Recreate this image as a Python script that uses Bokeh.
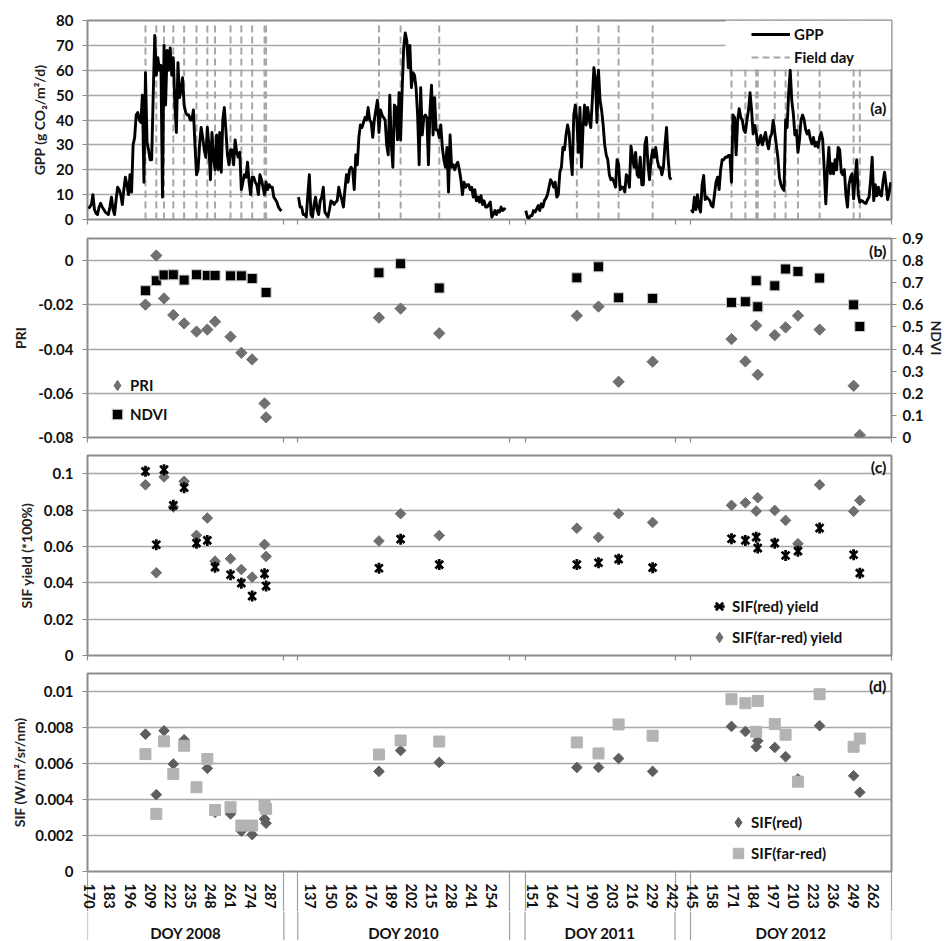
import numpy as np
from bokeh.plotting import figure
from bokeh.layouts import column
from bokeh.models import (Range1d, FixedTicker, LinearAxis, Legend, LegendItem,
                          Label, BoxAnnotation)
from bokeh.core.properties import value
from bokeh.embed import file_html
from bokeh.resources import INLINE

NaN = float("nan")

# ------------------------------------------------------------------ data ----
years = ["2008", "2010", "2011", "2012"]
first_doy = [170, 130, 148, 145]
last_doy = [296, 266, 244, 274]
spacer_cats = [9, 10, 10]      # empty categories between two seasons
label_every = 13               # one DOY label every 13 categories

# daily GPP (g CO2/m2/d), one value per day starting at first_doy
gpp_2008 = [4.5, 5, 6, 10, 4, 2.5, 2, 5, 6.5, 5,
            4, 3, 2.5, 2, 5, 9, 4, 2, 8, 13,
            12, 10, 6, 12, 17, 14, 10, 18, 11, 30,
            33, 42, 43, 40, 39, 50, 15, 59, 31, 28,
            24, 24, 50, 74, 58, 65, 60, 62, 9, 70,
            46, 68, 60, 69, 58, 65, 46, 35, 63, 49,
            52, 57, 46, 43, 42, 42, 40, 40, 44, 30,
            18, 20, 30, 37, 33, 28, 25, 37, 30, 16,
            35, 25, 20, 34, 20, 35, 19, 40, 45, 36,
            26, 22, 28, 28, 22, 32, 27, 25, 27, 12,
            15, 18, 17, 23, 15, 10, 17, 17, 15, 14,
            10, 18, 16, 13, 10, 15, 12, 14, 13, 13,
            9, 8, 7, 5, 4, 3.5]
gpp_2010 = [9, 5, 5, 2, 2, 1, 10, 18, 2, 1,
            6, 9, 4, 2, 7.5, 9, 13, 3, 2, 1,
            4, 7.5, 7, 6, 7, 7.5, 13, 10, 8, 5,
            12, 18, 15, 20, 21, 20, 12, 26, 22, 33,
            38, 37, 39, 41, 40, 45, 40, 39, 33, 40,
            44, 48, 35, 44, 42, 41, 40, 30, 26, 50,
            30, 21, 46, 45, 32, 51, 32, 52, 69, 75,
            72, 61, 70, 53, 59, 58, 53, 42, 22, 53,
            34, 41, 42, 41, 22, 44, 54, 34, 49, 36,
            36, 33, 38, 29, 24, 21, 29, 11, 34, 21,
            22, 20, 22, 23, 20, 16, 10, 15, 13, 14,
            14, 12, 13, 9, 12, 7.5, 9, 7, 9.6, 6,
            7.5, 5, 5, 6, 7, 1, 2, 3.6, 2, 3.6,
            3, 5, 3.6, 4.3, 4]
gpp_2011 = [3.6, 1, 0.5, 1.5, 1.6, 3.6, 3, 4.3, 5.6, 3.6,
            6.3, 5, 7.6, 8.5, 10, 13, 16, 15, 13, 15,
            9, 10, 19, 21, 29, 28, 34, 38, 35, 25,
            18, 42, 46, 40, 27, 45, 21, 37, 46, 38,
            45, 40, 37, 48, 61, 57, 39, 60, 48, 44,
            38, 30, 26, 24, 18, 16, 16.5, 15, 13, 24,
            22, 12, 13, 13, 11, 18, 17, 13, 29.5, 25,
            21, 27, 18, 17, 25, 14, 14, 30, 33, 22,
            16, 24, 28, 25, 29, 24, 21, 21, 18, 21,
            30, 37, 25, 17, 16]
gpp_2012 = [4, 3, 9, 4, 10, 5, 3, 14, 17.7, 8,
            9, 8.3, 7.6, 5.6, 5, 10, 15, 17, 12, 20,
            24, 24, 25, 25, 25.7, 25.7, 15, 42, 41, 26,
            40, 44.5, 41, 40, 36, 35, 40, 44, 51, 44,
            34.4, 37.8, 35, 30, 31, 33.8, 30, 32.4, 35, 31,
            28.4, 33, 34.4, 39.8, 35, 30, 25, 17, 14, 12.5,
            11.7, 40, 37, 51, 60, 47.8, 42.5, 34, 35.8, 27,
            32, 40, 42, 40, 36, 34.4, 35.8, 32.4, 30.4, 33,
            29.5, 31, 29, 33, 35, 32, 20, 6.3, 20, 29,
            18.4, 22.4, 18.4, 24, 20, 29, 28, 19, 18, 20,
            10, 5, 14, 17, 18.4, 8.3, 17, 24, 10, 7,
            7.6, 7.3, 6.6, 6.5, 8, 9, 16, 25, 7.6, 14,
            9.5, 13, 10, 9.5, 15, 19, 14, 8, 11, 15]

# field days (DOY) and the measurements taken on them
field_2008 = [207, 214, 219, 225, 232, 240, 247, 252, 262, 269, 276, 284, 285]
field_2010 = [182, 196, 221]
field_2011 = [181, 195, 208, 230]
field_2012 = [171, 180, 187, 188, 199, 206, 214, 228, 250, 254]

pri_2008 = [-0.0199, 0.0023, -0.0171, -0.0246, -0.0284, -0.0321, -0.0312,
            -0.0276, -0.0344, -0.0417, -0.0447, -0.0646, -0.0709]
pri_2010 = [-0.0258, -0.0217, -0.0329]
pri_2011 = [-0.0249, -0.0208, -0.0548, -0.0457]
pri_2012 = [-0.0355, -0.0456, -0.0294, -0.0516, -0.0337, -0.0302, -0.0249,
            -0.0312, -0.0566, -0.0789]

ndvi_2008 = [0.664, 0.709, 0.735, 0.736, 0.712, 0.736, 0.733, 0.733, 0.731,
             0.731, 0.719, NaN, 0.656]
ndvi_2010 = [0.745, 0.786, 0.676]
ndvi_2011 = [0.722, 0.772, 0.632, 0.629]
ndvi_2012 = [0.611, 0.614, 0.709, 0.591, 0.686, 0.762, 0.751, 0.721, 0.600, 0.502]

sif_red_yield_2008 = [0.1013, 0.0609, 0.1022, 0.0826, 0.0923, 0.0618, 0.0633,
                      0.0486, 0.0444, 0.0398, 0.0327, 0.0450, 0.0382]
sif_red_yield_2010 = [0.048, 0.064, 0.050]
sif_red_yield_2011 = [0.050, 0.051, 0.053, 0.0483]
sif_red_yield_2012 = [0.0642, 0.0633, 0.0651, 0.0591, 0.0618, 0.0550, 0.0574,
                      0.0701, 0.0554, 0.0453]

sif_fr_yield_2008 = [0.0939, 0.0455, 0.0982, 0.0817, 0.0958, 0.0661, 0.0756,
                     0.0519, 0.0532, 0.0473, 0.0431, 0.0611, 0.0545]
sif_fr_yield_2010 = [0.063, 0.078, 0.066]
sif_fr_yield_2011 = [0.070, 0.065, 0.078, 0.0732]
sif_fr_yield_2012 = [0.0826, 0.0840, 0.0794, 0.0868, 0.0798, 0.0743, 0.0615,
                     0.0939, 0.0793, 0.0853]

sif_red_2008 = [0.00763, 0.00427, 0.00782, 0.00597, 0.00732, NaN, 0.00573,
                0.00329, 0.0032, 0.00224, 0.00205, 0.00292, 0.00268]
sif_red_2010 = [0.00556, 0.00672, 0.00606]
sif_red_2011 = [0.00578, 0.00578, 0.00628, 0.00556]
sif_red_2012 = [0.00806, 0.00778, 0.00693, 0.00726, 0.00689, 0.00638, 0.00514,
                0.0081, 0.00532, 0.0044]

sif_fr_2008 = [0.00652, 0.0032, 0.00723, 0.00542, 0.00699, 0.00468, 0.00625,
               0.00342, 0.00357, 0.00255, 0.00255, 0.00366, 0.00348]
sif_fr_2010 = [0.0065, 0.00728, 0.00722]
sif_fr_2011 = [0.00717, 0.00656, 0.00817, 0.00754]
sif_fr_2012 = [0.00957, 0.00935, 0.00776, 0.00948, 0.00819, 0.0076, 0.00499,
               0.00985, 0.00693, 0.00739]

gpp_ticks = [0, 10, 20, 30, 40, 50, 60, 70, 80]
pri_ticks = [-0.08, -0.06, -0.04, -0.02, 0.0]
pri_tick_text = ["-0.08", "-0.06", "-0.04", "-0.02", "0"]
ndvi_ticks = [0.0, 0.1, 0.2, 0.3, 0.4, 0.5, 0.6, 0.7, 0.8, 0.9]
ndvi_tick_text = ["0", "0.1", "0.2", "0.3", "0.4", "0.5", "0.6", "0.7", "0.8", "0.9"]
yield_ticks = [0.0, 0.02, 0.04, 0.06, 0.08, 0.1]
yield_tick_text = ["0", "0.02", "0.04", "0.06", "0.08", "0.1"]
sif_ticks = [0.0, 0.002, 0.004, 0.006, 0.008, 0.01]
sif_tick_text = ["0", "0.002", "0.004", "0.006", "0.008", "0.01"]

# ------------------------------------------------------ category layout ----
season_len = [l - f + 1 for f, l in zip(first_doy, last_doy)]
first_cat = [0]
for i in range(1, len(years)):
    first_cat.append(first_cat[-1] + season_len[i - 1] + spacer_cats[i - 1])
n_cat = first_cat[-1] + season_len[-1]


def to_cat(i, doys):
    return [first_cat[i] + d - first_doy[i] for d in doys]


gpp_sets = [gpp_2008, gpp_2010, gpp_2011, gpp_2012]
field_sets = [field_2008, field_2010, field_2011, field_2012]
field_x = sum((to_cat(i, f) for i, f in enumerate(field_sets)), [])

pri = pri_2008 + pri_2010 + pri_2011 + pri_2012
ndvi = ndvi_2008 + ndvi_2010 + ndvi_2011 + ndvi_2012
sif_red_yield = sif_red_yield_2008 + sif_red_yield_2010 + sif_red_yield_2011 + sif_red_yield_2012
sif_fr_yield = sif_fr_yield_2008 + sif_fr_yield_2010 + sif_fr_yield_2011 + sif_fr_yield_2012
sif_red = sif_red_2008 + sif_red_2010 + sif_red_2011 + sif_red_2012
sif_fr = sif_fr_2008 + sif_fr_2010 + sif_fr_2011 + sif_fr_2012

bounds = sorted(set([first_cat[i] - 0.5 for i in range(len(years))] +
                    [first_cat[i] + season_len[i] - 0.5 for i in range(len(years))]))

tick_x, tick_txt = [], []
for i in range(len(years)):
    for c in range(first_cat[i], first_cat[i] + season_len[i]):
        if c % label_every == 0:
            tick_x.append(c)
            tick_txt.append(str(first_doy[i] + c - first_cat[i]))
group_mid = [first_cat[i] + (season_len[i] - 1) / 2 for i in range(len(years))]

# ----------------------------------------------------------------- style ----
FONT = "Lato"
FRAME_W = 804
LEFT, RIGHT = 87, 59
GRID = "#a8a8a8"
EDGE = "#8c8c8c"
SEP = "#a0a0a0"
TXT = "#111111"
px_per_cat = FRAME_W / n_cat
xr = Range1d(-0.5, n_cat - 0.5)


def style_axis(ax):
    ax.axis_line_color = None
    ax.major_tick_out = 5
    ax.major_tick_in = 0
    ax.major_tick_line_color = EDGE
    ax.minor_tick_line_color = None
    ax.major_label_text_font = FONT
    ax.major_label_text_font_style = "bold"
    ax.major_label_text_font_size = "15px"
    ax.major_label_text_color = TXT
    ax.major_label_standoff = 9
    ax.axis_label_text_font = FONT
    ax.axis_label_text_font_style = "bold"
    ax.axis_label_text_font_size = "14px"
    ax.axis_label_text_color = "#222222"


def separator_axis(p, tick_len):
    """Bottom axis carrying only the season separator ticks."""
    xa = p.xaxis[0]
    xa.ticker = FixedTicker(ticks=bounds)
    xa.major_label_overrides = {b: "" for b in bounds}
    xa.major_label_text_font_size = "1px"
    xa.major_label_standoff = 0
    xa.major_tick_out = tick_len
    xa.major_tick_in = 0
    xa.major_tick_line_color = EDGE
    xa.major_tick_line_width = 1.2
    xa.minor_tick_line_color = None
    xa.axis_line_color = None


def panel(frame_h, top, bottom, yr, yticks, ytext, ylabel, label_standoff):
    p = figure(frame_width=FRAME_W, frame_height=frame_h, x_range=xr, y_range=yr,
               output_backend="svg", toolbar_location=None,
               min_border_left=LEFT, min_border_right=RIGHT,
               min_border_top=top, min_border_bottom=bottom)
    p.outline_line_color = EDGE
    p.outline_line_width = 2
    p.background_fill_color = "white"
    p.border_fill_color = "white"
    p.xgrid.visible = False
    ya = p.yaxis[0]
    ya.ticker = FixedTicker(ticks=yticks)
    ya.major_label_overrides = {t: s for t, s in zip(yticks, ytext)}
    p.ygrid.ticker = FixedTicker(ticks=yticks)
    p.ygrid.grid_line_color = GRID
    p.ygrid.grid_line_width = 1.3
    style_axis(ya)
    ya.axis_label = ylabel
    ya.axis_label_standoff = label_standoff
    return p


def legend(items, loc, glyph_w, glyph_h, spacing, standoff, fill=None, padding=0):
    lg = Legend(items=items, location=loc, orientation="vertical",
                glyph_width=glyph_w, glyph_height=glyph_h, label_height=glyph_h,
                label_standoff=standoff, spacing=spacing, padding=padding,
                margin=0, border_line_color=None,
                label_text_font=FONT, label_text_font_style="bold",
                label_text_font_size="15px", label_text_color=TXT,
                label_text_baseline="middle")
    if fill is None:
        lg.background_fill_alpha = 0
    else:
        lg.background_fill_color = fill
        lg.background_fill_alpha = 1
    return lg


def legend_diamond(p, color):
    # marker used only as the legend sample of a diamond series
    return p.scatter(x=[NaN], y=[NaN], marker="diamond", size=10,
                     fill_color=color, line_color=color)


def tag(p, text, y):
    p.add_layout(Label(x=n_cat - 0.5 - 5 / px_per_cat, y=y, text=text,
                       text_align="right", text_baseline="middle",
                       text_font=FONT, text_font_style="bold",
                       text_font_size="16px", text_color=TXT))


# ------------------------------------------------------------- (a) GPP ----
pa = panel(199, 20, 9, Range1d(0, 80), gpp_ticks, [str(t) for t in gpp_ticks],
           "GPP (g CO\u2082/m\u00b2/d)", 5)
separator_axis(pa, 5)
r_field = pa.segment(x0=field_x, y0=pa.y_range.start, x1=field_x, y1=pa.y_range.end,
                     line_color="#a6a6a6", line_width=2, line_dash="7 4")
r_gpp = None
for i, g in enumerate(gpp_sets):
    r = pa.line(x=first_cat[i] + np.arange(len(g)), y=g, line_color="black",
                line_width=2.9, line_join="round")
    r_gpp = r_gpp or r
pa.add_layout(BoxAnnotation(left=n_cat - 0.5 - 166 / px_per_cat, right=n_cat - 0.5,
                            bottom=60.5, top=80, fill_color="white", fill_alpha=1,
                            line_color=None))
pa.add_layout(legend([LegendItem(label="GPP", renderers=[r_gpp]),
                      LegendItem(label="Field day", renderers=[r_field])],
                     (664, 152), 39, 20, 3, 4, fill="white", padding=2))
tag(pa, "(a)", 45)

# ------------------------------------------------------- (b) PRI / NDVI ----
pb = panel(199, 10, 9, Range1d(-0.08, 0.01), pri_ticks, pri_tick_text, "PRI", 6)
separator_axis(pb, 5)
pb.extra_y_ranges = {"ndvi": Range1d(0, 0.9)}
ra = LinearAxis(y_range_name="ndvi", ticker=FixedTicker(ticks=ndvi_ticks),
                major_label_overrides={t: s for t, s in zip(ndvi_ticks, ndvi_tick_text)},
                axis_label="NDVI")
style_axis(ra)
ra.major_label_standoff = 6
ra.axis_label_standoff = 2
pb.add_layout(ra, "right")
r_pri = pb.scatter(x=field_x, y=pri, marker="square", angle=np.pi / 4, size=8,
                   fill_color="#707070", line_color="#707070")
r_ndvi = pb.scatter(x=field_x, y=ndvi, y_range_name="ndvi", marker="square", size=10,
                    fill_color="black", line_color="#c8c8c8", line_width=1)
lg_pri = legend_diamond(pb, "#707070")
pb.add_layout(legend([LegendItem(label="PRI", renderers=[lg_pri]),
                      LegendItem(label="NDVI", renderers=[r_ndvi])],
                     (17, 9), 26, 28, 1, -2))
tag(pb, "(b)", 0.0045)

# ---------------------------------------------------------- (c) SIF yield ----
pc = panel(200, 9, 9, Range1d(0, 0.11), yield_ticks, yield_tick_text,
           "SIF yield (*100%)", 6)
separator_axis(pc, 5)
r_fry = pc.scatter(x=field_x, y=sif_fr_yield, marker="square", angle=np.pi / 4,
                   size=7.5, fill_color="#6e6e6e", line_color="#6e6e6e")
r_ry1 = pc.scatter(x=field_x, y=sif_red_yield, marker="x", size=11,
                   line_color="black", line_width=2.7)
r_ry2 = pc.scatter(x=field_x, y=sif_red_yield, marker="dash", angle=np.pi / 2,
                   size=11, line_color="black", line_width=2.7)
lg_fry = legend_diamond(pc, "#6e6e6e")
pc.add_layout(legend([LegendItem(label="SIF(red) yield", renderers=[r_ry1, r_ry2]),
                      LegendItem(label="SIF(far-red) yield", renderers=[lg_fry])],
                     (619, 4), 26, 28, 3, -3))
tag(pc, "(c)", 0.104)

# ---------------------------------------------------------------- (d) SIF ----
pd_ = panel(198, 9, 40, Range1d(0, 0.011), sif_ticks, sif_tick_text,
            "SIF (W/m\u00b2/sr/nm)", 4)
# category axis: DOY labels every 13 days, season separators as long minor ticks
SEP_LEN = 40
xa = pd_.xaxis[0]
xa.ticker = FixedTicker(ticks=[t + 1 for t in tick_x], minor_ticks=bounds)
xa.major_label_overrides = {t + 1: s for t, s in zip(tick_x, tick_txt)}
xa.major_label_orientation = "vertical"
xa.major_label_standoff = 12 - SEP_LEN
xa.major_label_text_font = FONT
xa.major_label_text_font_style = "bold"
xa.major_label_text_font_size = "14.5px"
xa.major_label_text_color = TXT
xa.major_tick_out = 0
xa.major_tick_in = 0
xa.major_tick_line_color = None
xa.minor_tick_out = SEP_LEN
xa.minor_tick_in = 0
xa.minor_tick_line_color = SEP
xa.minor_tick_line_width = 1.2
xa.axis_line_color = None

r_red = pd_.scatter(x=field_x, y=sif_red, marker="square", angle=np.pi / 4, size=7.5,
                    fill_color="#5e5e5e", line_color="#5e5e5e")
r_fr = pd_.scatter(x=field_x, y=sif_fr, marker="square", size=11,
                   fill_color="#b3b3b3", line_color="#b3b3b3")
lg_red = legend_diamond(pd_, "#5e5e5e")
pd_.add_layout(legend([LegendItem(label="SIF(red)", renderers=[lg_red]),
                       LegendItem(label="SIF(far-red)", renderers=[r_fr])],
                      (638, 4), 26, 28, 3, -4))
tag(pd_, "(d)", 0.01036)

# ------------------------------------------------ season names (DOY year) ----
STRIP_H = 29
ps = figure(frame_width=FRAME_W, frame_height=STRIP_H, x_range=xr,
            y_range=Range1d(0, STRIP_H), output_backend="svg", toolbar_location=None,
            min_border_left=LEFT, min_border_right=RIGHT, min_border_top=0,
            min_border_bottom=0, x_axis_location=None, y_axis_location=None)
ps.outline_line_color = None
ps.grid.visible = False
ps.segment(x0=bounds, y0=0, x1=bounds, y1=STRIP_H, line_color=SEP, line_width=1.2)
ps.text(x=group_mid, y=STRIP_H - 21, text=["DOY " + y for y in years],
        text_align="center", text_baseline="middle", text_font=value(FONT),
        text_font_style="bold", text_font_size="15px", text_color=TXT)

page = column(pa, pb, pc, pd_, ps, spacing=0)
open("out.html", "w").write(file_html(page, INLINE))
